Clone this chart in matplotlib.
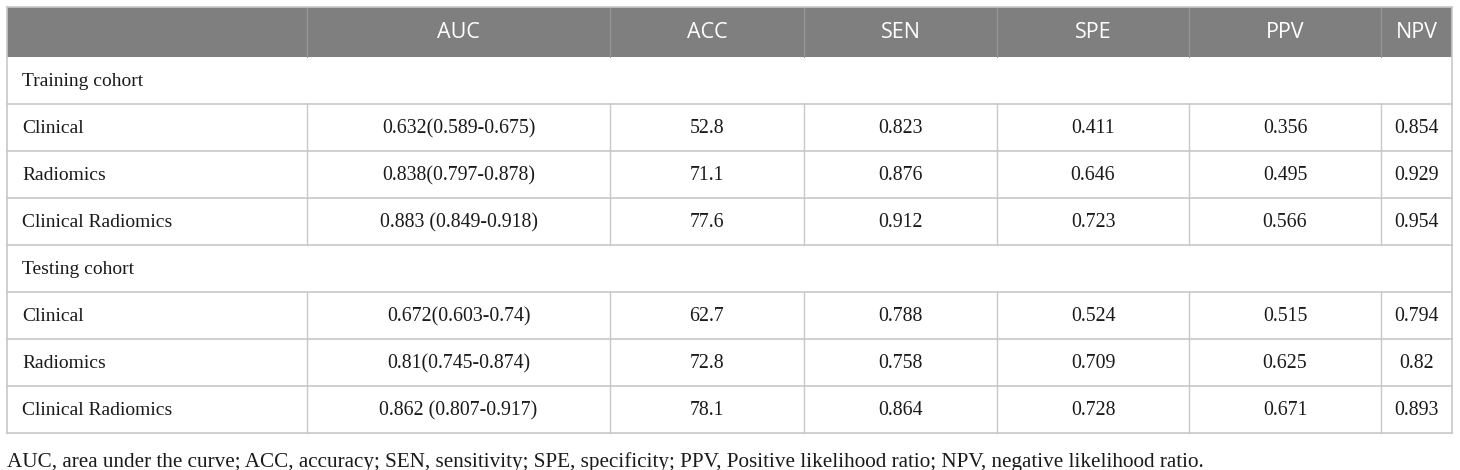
import matplotlib.pyplot as plt
from matplotlib.patches import Rectangle

# table content
columns = ['', 'AUC', 'ACC', 'SEN', 'SPE', 'PPV', 'NPV']
groups = ['Training cohort', 'Testing cohort']
models = ['Clinical', 'Radiomics', 'Clinical Radiomics']
auc_train = ['0.632(0.589-0.675)', '0.838(0.797-0.878)', '0.883 (0.849-0.918)']
acc_train = ['52.8', '71.1', '77.6']
sen_train = ['0.823', '0.876', '0.912']
spe_train = ['0.411', '0.646', '0.723']
ppv_train = ['0.356', '0.495', '0.566']
npv_train = ['0.854', '0.929', '0.954']
auc_test = ['0.672(0.603-0.74)', '0.81(0.745-0.874)', '0.862 (0.807-0.917)']
acc_test = ['62.7', '72.8', '78.1']
sen_test = ['0.788', '0.758', '0.864']
spe_test = ['0.524', '0.709', '0.728']
ppv_test = ['0.515', '0.625', '0.671']
npv_test = ['0.794', '0.82', '0.893']
caption = ('AUC, area under the curve; ACC, accuracy; SEN, sensitivity; SPE, specificity; '
           'PPV, Positive likelihood ratio; NPV, negative likelihood ratio.')

W, H = 1460, 470
col_x = [7, 307, 610, 804, 997, 1189, 1381, 1452]
top, head_h, row_h = 7, 50, 47
header_bg = '#7f7f7f'
line_c = '#c8c8c8'
serif = 'Liberation Serif'
sans = 'Open Sans'

fig = plt.figure(figsize=(W / 100, H / 100), dpi=100)
ax = fig.add_axes([0, 0, 1, 1])
ax.set_xlim(0, W)
ax.set_ylim(H, 0)
ax.axis('off')

# header
ax.add_patch(Rectangle((col_x[0], top), col_x[-1] - col_x[0], head_h,
                       facecolor=header_bg, edgecolor='none'))
for i, name in enumerate(columns):
    cx = (col_x[i] + col_x[i + 1]) / 2
    ax.text(cx, top + head_h / 2 + 1, name, ha='center', va='center',
            color='white', fontsize=15.5, family=sans)
    if 0 < i:
        ax.plot([col_x[i], col_x[i]], [top, top + head_h], color='#999999', lw=0.8)

# body rows
rows = []
for g, data in zip(groups, [(auc_train, acc_train, sen_train, spe_train, ppv_train, npv_train),
                            (auc_test, acc_test, sen_test, spe_test, ppv_test, npv_test)]):
    rows.append((g, None))
    for k, m in enumerate(models):
        rows.append((m, [d[k] for d in data]))

y = top + head_h
for label, vals in rows:
    ax.text(col_x[0] + 15, y + row_h / 2 + 1, label, ha='left', va='center',
            fontsize=14, family=serif, color='#1a1a1a')
    if vals is not None:
        for i, v in enumerate(vals):
            cx = (col_x[i + 1] + col_x[i + 2]) / 2
            ax.text(cx, y + row_h / 2 + 1, v, ha='center', va='center',
                    fontsize=14.3, family=serif, color='#1a1a1a')
        for xv in col_x[1:-1]:
            ax.plot([xv, xv], [y, y + row_h], color=line_c, lw=1)
    ax.plot([col_x[0], col_x[-1]], [y + row_h, y + row_h], color=line_c, lw=1.2)
    y += row_h

# outer borders
ax.plot([col_x[0], col_x[0]], [top, y], color=line_c, lw=1.2)
ax.plot([col_x[-1], col_x[-1]], [top, y], color=line_c, lw=1.2)
ax.plot([col_x[0], col_x[-1]], [top, top], color=line_c, lw=1.2)

ax.text(col_x[0], 462, caption, ha='left', va='center', fontsize=15.2,
        family=serif, color='#1a1a1a')

fig.savefig('out.png', dpi=100)
